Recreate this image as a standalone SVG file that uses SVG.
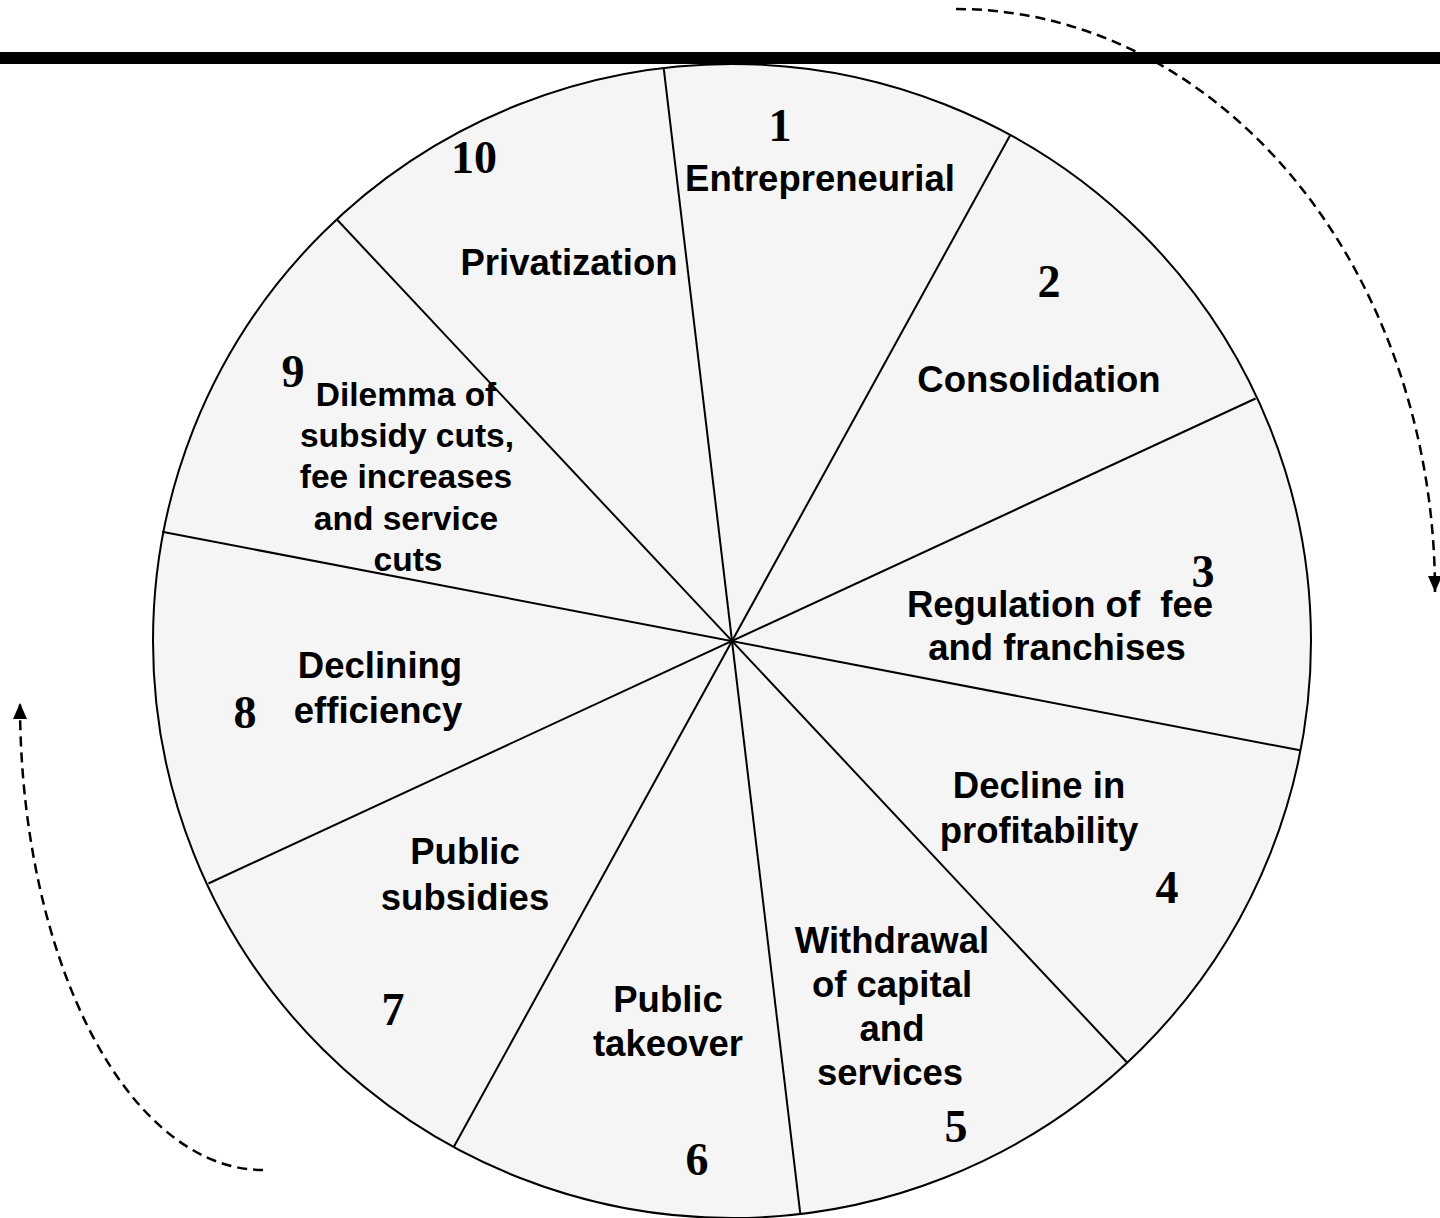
<svg xmlns="http://www.w3.org/2000/svg" width="1440" height="1218" viewBox="0 0 1440 1218">
  <defs>
    <style>
      .lbl { font-family: "Liberation Sans", Arial, sans-serif; font-weight: bold; font-size: 36.5px; fill: #000; text-anchor: middle; }
      .lbl-sm { font-family: "Liberation Sans", Arial, sans-serif; font-weight: bold; font-size: 33.5px; fill: #000; text-anchor: middle; }
      .num { font-family: "Liberation Serif", "Times New Roman", serif; font-weight: bold; font-size: 46px; fill: #000; text-anchor: middle; }
      .spoke { stroke: #000; stroke-width: 2; fill: none; }
      .cycle { stroke: #000; stroke-width: 2.5; fill: none; stroke-dasharray: 10 6; }
    </style>
    <marker id="arrow" markerUnits="userSpaceOnUse" markerWidth="18" markerHeight="16" refX="16" refY="7" orient="auto">
      <path d="M0,0 L16,7 L0,14 z" fill="#000"/>
    </marker>
  </defs>

  <rect width="1440" height="1218" fill="#fff"/>

  <!-- heavy rule across the top -->
  <rect id="top-rule" x="0" y="52" width="1440" height="12" fill="#000"/>

  <!-- wheel body -->
  <g id="wheel">
    <ellipse cx="732" cy="641" rx="579" ry="577" fill="#f5f5f5" stroke="#000" stroke-width="2"/>
    <line class="spoke" x1="663.7" y1="68.1" x2="800.3" y2="1213.9"/>
    <line class="spoke" x1="1010" y1="135.4" x2="454" y2="1146.6"/>
    <line class="spoke" x1="1255.6" y1="398.5" x2="208.4" y2="883.5"/>
    <line class="spoke" x1="1300" y1="750.3" x2="162" y2="531.7"/>
    <line class="spoke" x1="1126.6" y1="1062" x2="337.4" y2="220"/>
  </g>

  <!-- stages -->
  <g id="stage-1">
    <text class="num" x="780" y="141">1</text>
    <text class="lbl" x="820" y="191">Entrepreneurial</text>
  </g>
  <g id="stage-2">
    <text class="num" x="1049" y="297">2</text>
    <text class="lbl" x="1039" y="392">Consolidation</text>
  </g>
  <g id="stage-3">
    <text class="num" x="1203" y="587">3</text>
    <text class="lbl" x="1060" y="617" xml:space="preserve">Regulation of  fee</text>
    <text class="lbl" x="1057" y="660">and franchises</text>
  </g>
  <g id="stage-4">
    <text class="lbl" x="1039" y="798">Decline in</text>
    <text class="lbl" x="1039" y="843">profitability</text>
    <text class="num" x="1167" y="903">4</text>
  </g>
  <g id="stage-5">
    <text class="lbl" x="892" y="953">Withdrawal</text>
    <text class="lbl" x="892" y="997">of capital</text>
    <text class="lbl" x="892" y="1041">and</text>
    <text class="lbl" x="890" y="1085">services</text>
    <text class="num" x="956" y="1142">5</text>
  </g>
  <g id="stage-6">
    <text class="lbl" x="668" y="1012">Public</text>
    <text class="lbl" x="668" y="1056">takeover</text>
    <text class="num" x="697" y="1175">6</text>
  </g>
  <g id="stage-7">
    <text class="lbl" x="465" y="864">Public</text>
    <text class="lbl" x="465" y="910">subsidies</text>
    <text class="num" x="393" y="1025">7</text>
  </g>
  <g id="stage-8">
    <text class="lbl" x="380" y="678">Declining</text>
    <text class="lbl" x="378" y="723">efficiency</text>
    <text class="num" x="245" y="728">8</text>
  </g>
  <g id="stage-9">
    <text class="num" x="293" y="387">9</text>
    <text class="lbl-sm" x="406" y="406">Dilemma of</text>
    <text class="lbl-sm" x="407" y="447">subsidy cuts,</text>
    <text class="lbl-sm" x="406" y="488">fee increases</text>
    <text class="lbl-sm" x="406" y="530">and service</text>
    <text class="lbl-sm" x="408" y="571">cuts</text>
  </g>
  <g id="stage-10">
    <text class="num" x="474" y="173">10</text>
    <text class="lbl" x="569" y="275">Privatization</text>
  </g>

  <!-- direction of the cycle -->
  <g id="connectors">
    <path class="cycle" d="M 956 9 A 479 583 0 0 1 1435 592" marker-end="url(#arrow)"/>
    <path class="cycle" d="M 263 1170 A 243 467 0 0 1 20 703" marker-end="url(#arrow)"/>
  </g>
</svg>
